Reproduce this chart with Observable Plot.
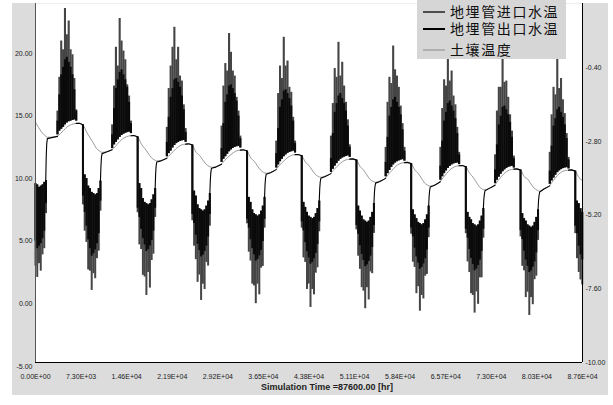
<!DOCTYPE html>
<html><head><meta charset="utf-8">
<script src="https://cdn.jsdelivr.net/npm/d3@7"></script>
<script src="https://cdn.jsdelivr.net/npm/@observablehq/plot@0.6"></script>
<style>
body{margin:0;background:#fff;}
#wrap{position:relative;width:613px;height:405px;overflow:hidden;}
#panel{position:absolute;left:12px;top:3px;width:596px;height:392px;background:#dcdcdc;}
#chart{position:absolute;left:0;top:0;}
#legend{position:absolute;left:417px;top:0;width:149px;height:59px;background:#d6d6d6;font-family:"Liberation Sans","Noto Sans CJK SC",sans-serif;font-size:14px;letter-spacing:1.6px;color:#111;}
.sw{position:absolute;left:6px;width:22px;height:2px;}
.lab{position:absolute;left:33px;white-space:nowrap;line-height:14px;height:14px;}
</style></head><body>
<div id="wrap"><div id="panel"></div><div id="chart"></div><div id="legend"></div></div>
<script>
// ---------- axes / ticks ----------
const xTicks = [0,7300,14600,21900,29200,36500,43800,51100,58400,65700,73000,80300,87600];
const leftTicks = [-5,0,5,10,15,20];
const rightTicks = [-10,-7.6,-5.2,-2.8,-0.4];
const xTitle = "Simulation Time =87600.00 [hr]";
const legendNames = ["地埋管进口水温","地埋管出口水温","土壤温度"];
const yDomain = [-4.7, 24];
const rightDomain = [-10, 1.69];
const xDomain = [0, 87600];
const yearHours = 8760;

// ---------- soil temperature (per year, at hour offsets) ----------
const soilOffsets = [0,500,1000,1500,1900,2600,3500,4000,4500,5000,5800,6500,7000,7600,8200];
const soilByYear = [
[14.51,14.08,13.71,13.45,13.31,13.31,13.4,13.6,13.85,14.11,14.33,14.42,14.43,14.3,13.71],
[13.25,12.85,12.42,12.2,12.1,12.15,12.32,12.55,12.85,13.1,13.35,13.43,13.45,13.33,12.75],
[12.4,12.05,11.7,11.5,11.42,11.45,11.65,11.9,12.15,12.4,12.68,12.76,12.78,12.68,12.1],
[11.85,11.5,11.17,10.98,10.91,10.95,11.18,11.45,11.7,11.92,12.2,12.28,12.3,12.2,11.65],
[11.38,11.02,10.68,10.5,10.43,10.5,10.75,11.05,11.3,11.55,11.83,11.92,11.93,11.83,11.3],
[11.05,10.68,10.35,10.17,10.11,10.2,10.43,10.72,10.98,11.22,11.48,11.56,11.58,11.48,10.95],
[10.68,10.3,9.95,9.78,9.71,9.8,10.05,10.38,10.65,10.92,11.2,11.28,11.3,11.2,10.68],
[10.4,10.02,9.65,9.47,9.4,9.5,9.78,10.1,10.4,10.68,10.95,11.03,11.05,10.95,10.42],
[10.12,9.72,9.35,9.16,9.1,9.25,9.5,9.85,10.15,10.42,10.68,10.76,10.78,10.68,10.15],
[9.95,9.58,9.25,9.07,9.0,9.2,9.45,9.8,10.1,10.38,10.62,10.68,10.7,10.6,10.08]
];
const soilEnd = [87600, 9.85];

// ---------- cooling season (summer) band, samples every 300 h from hour 3520 ----------
const summerStart = 3520, summerStep = 300;
const summerBase = [
[13.5,13.8,13.95,14.1,14.3,14.45,14.55,14.6,14.65,14.7,14.6],
[12.4,12.7,12.9,13.1,13.3,13.45,13.55,13.62,13.68,13.72,13.6],
[11.75,12.0,12.2,12.45,12.65,12.8,12.9,12.98,13.02,13.05,12.9],
[11.3,11.55,11.75,11.95,12.15,12.3,12.42,12.5,12.55,12.58,12.45],
[10.85,11.1,11.35,11.55,11.75,11.9,12.02,12.1,12.15,12.2,12.05],
[10.5,10.75,11.0,11.2,11.4,11.55,11.65,11.72,11.78,11.82,11.7],
[10.15,10.4,10.65,10.9,11.1,11.25,11.35,11.42,11.48,11.52,11.4],
[9.88,10.15,10.4,10.62,10.82,10.98,11.1,11.18,11.22,11.25,11.12],
[9.6,9.88,10.12,10.35,10.55,10.7,10.82,10.9,10.95,10.98,10.85],
[9.55,9.82,10.05,10.28,10.48,10.62,10.72,10.8,10.85,10.88,10.78]
];
const summerInlet = [
[15.4,18.1,21.0,20.3,23.6,21.5,22.6,20.3,19.9,18.0,15.5],
[14.3,17.4,20.5,19.0,22.8,21.0,20.2,19.5,17.5,16.6,14.6],
[14.1,17.2,19.0,20.5,22.1,19.5,20.5,18.2,17.8,15.9,14.0],
[14.2,17.4,19.2,18.6,21.6,20.1,18.6,18.2,16.5,15.4,13.4],
[13.0,16.8,19.0,18.0,21.3,19.0,19.4,17.3,16.9,14.9,13.0],
[13.4,16.0,18.8,18.1,20.9,18.2,19.3,17.4,16.1,14.7,12.7],
[12.5,16.1,18.1,17.6,20.6,18.7,18.2,17.3,15.8,14.4,12.5],
[12.5,15.6,17.9,17.4,20.2,17.8,18.6,16.6,15.9,14.1,12.1],
[11.9,15.4,17.3,17.3,19.8,17.7,17.8,16.5,15.1,13.8,11.8],
[12.1,15.1,17.3,16.7,19.6,17.2,18.0,16.3,15.2,13.6,11.7]
];
const summerOutlet = [
[14.6,16.7,18.3,18.9,19.5,19.7,19.3,18.9,18.3,17.1,15.4],
[13.5,15.6,17.2,17.9,18.5,18.7,18.3,17.9,17.3,16.1,14.4],
[12.9,14.9,16.5,17.2,17.9,18.0,17.7,17.3,16.6,15.5,13.7],
[12.4,14.4,16.1,16.7,17.4,17.5,17.2,16.8,16.2,15.0,13.2],
[12.0,14.0,15.7,16.3,17.0,17.1,16.8,16.4,15.8,14.6,12.8],
[11.6,13.6,15.3,16.0,16.6,16.8,16.4,16.0,15.4,14.2,12.5],
[11.3,13.3,15.0,15.7,16.3,16.5,16.1,15.7,15.1,13.9,12.2],
[11.0,13.0,14.6,15.3,16.0,16.2,15.8,15.4,14.8,13.6,11.9],
[10.7,12.7,14.3,15.0,15.7,15.8,15.5,15.1,14.5,13.3,11.6],
[10.6,12.6,14.2,14.8,15.5,15.7,15.3,14.9,14.3,13.2,11.5]
];

// ---------- heating season (winter) band, samples every 280 h ----------
const winterStep = 280, winterLead = 1160;
const winterTop = [
[9.6,9.5,9.3,9.4,9.5,9.7,9.85],
[14.3,10.3,10.0,9.4,9.2,8.9,8.8,8.7,8.8,9.2,9.8],
[13.33,9.6,9.2,8.4,8.1,8.0,7.9,8.0,8.3,8.7,9.2],
[12.68,9.0,8.6,7.9,7.6,7.5,7.4,7.5,7.8,8.2,8.8],
[12.2,8.5,8.1,7.5,7.2,7.1,7.0,7.1,7.4,7.8,8.5],
[11.83,8.1,7.7,7.3,7.0,6.9,6.8,6.9,7.2,7.6,8.2],
[11.48,7.8,7.4,7.0,6.7,6.6,6.5,6.6,6.9,7.3,8.0],
[11.2,7.5,7.1,6.8,6.5,6.4,6.3,6.4,6.7,7.1,7.8],
[10.95,7.3,6.9,6.7,6.4,6.3,6.2,6.3,6.6,7.0,7.6],
[10.68,7.2,6.8,6.6,6.3,6.2,6.1,6.2,6.5,6.9,7.5],
[10.6,8.2,8.0,7.6,7.3]
];
const winterInlet = [
[3.0,2.1,3.2,2.6,3.9,4.4,7.2],
[7.9,5.8,4.9,2.7,2.6,1.06,2.4,2.0,3.6,4.2,7.4],
[7.27,4.7,4.33,2.27,2.13,0.66,2.5,1.25,3.45,3.96,6.9],
[6.63,4.6,3.52,1.71,2.29,0.26,1.56,1.13,3.3,3.01,6.2],
[6.39,4.12,3.41,1.56,1.42,0.0,1.56,0.71,2.84,2.98,6.04],
[6.04,3.66,3.3,1.14,1.57,-0.3,1.14,0.71,2.44,2.87,5.75],
[5.9,3.8,2.75,1.28,1.0,-0.4,1.28,0.3,2.54,2.4,5.62],
[5.56,3.32,2.9,0.8,1.36,-0.6,0.66,0.38,2.2,2.34,5.28],
[5.6,3.34,2.49,0.8,0.66,-0.75,0.94,-0.05,2.07,2.07,5.24],
[5.34,2.99,2.63,0.49,0.92,-0.94,0.49,-0.08,1.92,2.2,5.06],
[5.6,3.6,2.5,1.9,1.5]
];
const winterOutlet = [
[5.0,4.4,4.6,4.8,5.2,5.8,8.0],
[8.6,7.3,6.2,5.1,4.4,3.8,4.0,4.3,4.8,5.6,8.2],
[7.63,6.9,5.95,5.2,4.7,4.18,4.33,4.62,5.06,5.8,7.63],
[7.14,6.41,5.47,4.75,4.24,3.74,3.88,4.17,4.6,5.33,7.14],
[6.75,6.04,5.11,4.4,3.91,3.41,3.55,3.83,4.26,4.97,6.75],
[6.54,5.82,4.88,4.16,3.66,3.16,3.3,3.59,4.02,4.74,6.54],
[6.25,5.55,4.64,3.94,3.45,2.96,3.1,3.38,3.8,4.5,6.25],
[6.05,5.35,4.44,3.74,3.25,2.76,2.9,3.18,3.6,4.3,6.05],
[5.95,5.24,4.33,3.62,3.13,2.63,2.78,3.06,3.48,4.19,5.95],
[5.84,5.13,4.2,3.49,2.99,2.49,2.63,2.92,3.34,4.06,5.84],
[6.2,5.6,4.6,3.9,3.5]
];

// ---------- off periods: fluid follows the ground ----------
const springHours = [1640,1720,1800,1900,2600,3520];
const springFluid = [
[9.85,11.8,12.8,13.2,13.28,13.38],
[9.8,11.0,11.7,12.0,12.12,12.3],
[9.2,10.4,11.0,11.33,11.42,11.62],
[8.8,9.9,10.5,10.83,10.92,11.15],
[8.5,9.5,10.05,10.35,10.47,10.72],
[8.2,9.2,9.75,10.03,10.17,10.4],
[8.0,8.9,9.35,9.64,9.77,10.02],
[7.8,8.6,9.05,9.33,9.47,9.75],
[7.6,8.35,8.75,9.03,9.22,9.47],
[7.5,8.25,8.65,8.93,9.17,9.42]
];
const autumnHours = [6520,7000,7600];
const autumnFluid = [
[14.42,14.43,14.3],[13.43,13.45,13.33],[12.76,12.78,12.68],[12.28,12.3,12.2],[11.92,11.93,11.83],
[11.56,11.58,11.48],[11.28,11.3,11.2],[11.03,11.05,10.95],[10.76,10.78,10.68],[10.68,10.7,10.6]
];

// ---------- build tables ----------
const soilRows = [];
soilByYear.forEach((vals, k) => vals.forEach((v, j) => soilRows.push({t: k*yearHours + soilOffsets[j], v})));
soilRows.push({t: soilEnd[0], v: soilEnd[1]});

const summerRows = [];
summerBase.forEach((b, k) => b.forEach((base, i) => summerRows.push({
  t: k*yearHours + summerStart + i*summerStep, base, inlet: summerInlet[k][i], outlet: summerOutlet[k][i]})));

const winterRows = [];
winterTop.forEach((tops, p) => {
  const start = p === 0 ? 0 : p*yearHours - winterLead;
  tops.forEach((top, i) => winterRows.push({t: start + i*winterStep, top, inlet: winterInlet[p][i], outlet: winterOutlet[p][i]}));
});

const fluidRows = [];
springFluid.forEach((vals, k) => vals.forEach((v, j) => fluidRows.push({t: k*yearHours + springHours[j], v, seg: "s"+k})));
autumnFluid.forEach((vals, k) => vals.forEach((v, j) => fluidRows.push({t: k*yearHours + autumnHours[j], v, seg: "a"+k})));

const rightToLeft = d3.scaleLinear(rightDomain, yDomain);
const rightRows = rightTicks.map(r => ({r, y: rightToLeft(r)}));

const fmtE = v => {
  const [m, e] = v.toExponential(2).split("e");
  return m + "E" + e[0] + e.slice(1).padStart(2, "0");
};

const chart = Plot.plot({
  width: 613, height: 405,
  marginLeft: 35, marginRight: 31, marginTop: 3, marginBottom: 43,
  style: {background: "transparent", fontFamily: "'Liberation Sans', Arial, sans-serif", fontSize: "7px", color: "#222"},
  x: {domain: xDomain, axis: null},
  y: {domain: yDomain, axis: null},
  marks: [
    Plot.frame({fill: "white", stroke: "none"}),
    Plot.line(soilRows, {x: "t", y: "v", stroke: "#9a9a9a", strokeWidth: 1, curve: "monotone-x"}),
    Plot.ruleX(summerRows, {x: "t", y1: "base", y2: "inlet", stroke: "#454545", strokeWidth: 2.1}),
    Plot.ruleX(summerRows, {x: "t", y1: "base", y2: "outlet", stroke: "#0a0a0a", strokeWidth: 2.1}),
    Plot.ruleX(winterRows, {x: "t", y1: "top", y2: "inlet", stroke: "#454545", strokeWidth: 2}),
    Plot.ruleX(winterRows, {x: "t", y1: "top", y2: "outlet", stroke: "#0a0a0a", strokeWidth: 2}),
    Plot.line(fluidRows, {x: "t", y: "v", z: "seg", stroke: "#000", strokeWidth: 1.1}),
    Plot.ruleX([xDomain[0]], {stroke: "#555"}),
    Plot.ruleX([xDomain[1]], {stroke: "#000"}),
    Plot.ruleY([yDomain[0]], {stroke: "#000"}),
    Plot.axisY(leftTicks, {tickSize: 0, tickPadding: 3, tickFormat: d => d.toFixed(2), label: null}),
    Plot.text(rightRows, {x: () => xDomain[1], y: "y", text: d => d.r.toFixed(2), textAnchor: "start", dx: 3}),
    Plot.axisX(xTicks, {tickSize: 0, tickPadding: 12, tickFormat: fmtE, label: null}),
    Plot.text([xTitle], {frameAnchor: "bottom", dy: 27, dx: 18, fontSize: 9, fontWeight: "bold", fill: "#222"})
  ]
});
document.getElementById("chart").appendChild(chart);

// ---------- legend ----------
const legend = document.getElementById("legend");
const legendColors = ["#4d4d4d", "#000", "#b0b0b0"];
const legendY = [12, 28.5, 50];
legendNames.forEach((name, i) => {
  const sw = document.createElement("div");
  sw.className = "sw"; sw.style.top = (legendY[i] - 1) + "px"; sw.style.background = legendColors[i];
  legend.appendChild(sw);
  const lab = document.createElement("div");
  lab.className = "lab"; lab.style.top = (legendY[i] - 7) + "px"; lab.textContent = name;
  legend.appendChild(lab);
});
</script></body></html>
